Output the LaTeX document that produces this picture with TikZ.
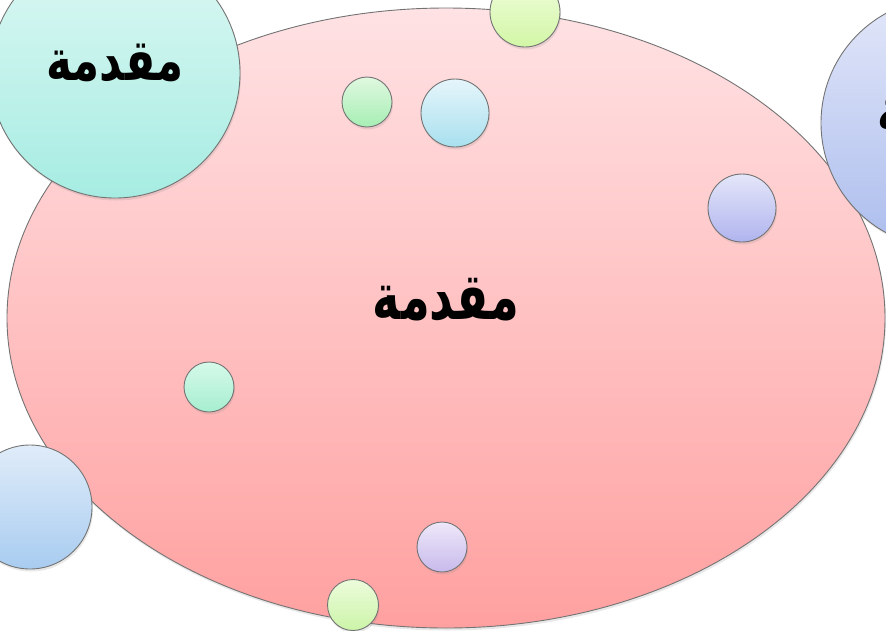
\documentclass[tikz,border=0pt]{standalone}
\usepackage{fontspec}
\usepackage{graphicx}
\usetikzlibrary{shapes.geometric,shadows}
\newfontfamily\arabicfont[Script=Arabic]{DejaVu Sans}
\TeXXeTstate=1
\newcommand{\arword}[3]{\scalebox{#2}[#3]{\beginR #1\endR}}
\tikzset{
  bubble/.style={circle, draw=black!55, line width=0.9pt, inner sep=0pt,
    drop shadow={opacity=0.18, shadow xshift=1pt, shadow yshift=-2.5pt}},
  bigtext/.style={font=\arabicfont\bfseries\fontsize{50}{60}\selectfont},
  midtext/.style={font=\arabicfont\bfseries\fontsize{46}{55}\selectfont},
}
\begin{document}
\begin{tikzpicture}[x=1pt,y=-1pt]
\useasboundingbox (0,0) rectangle (886,630);
\clip (0,0) rectangle (886,630);
\node[ellipse, draw=black!55, line width=0.9pt, minimum width=878pt, minimum height=620pt, inner sep=0pt,
  top color={rgb,255:red,255;green,226;blue,228}, bottom color={rgb,255:red,255;green,160;blue,160},
  drop shadow={opacity=0.18, shadow xshift=1pt, shadow yshift=-2.5pt}] (main) at (446,318) {};
\node[bigtext] (maintext) at (446,300) {\arword{مقدمة}{0.93}{1.3}};
% big circles
\node[bubble, minimum size=250pt, top color={rgb,255:red,222;green,248;blue,244}, bottom color={rgb,255:red,166;green,236;blue,226}] (tl) at (115,73) {};
\node[midtext] (tltext) at (115,63) {\arword{مقدمة}{0.95}{1.25}};
\node[bubble, minimum size=250pt, top color={rgb,255:red,226;green,231;blue,249}, bottom color={rgb,255:red,172;green,189;blue,237}] (tr) at (946,123) {};
\node[midtext] (trtext) at (946,113) {\arword{مقدمة}{0.95}{1.25}};
\node[bubble, minimum size=124pt, top color={rgb,255:red,224;green,236;blue,249}, bottom color={rgb,255:red,168;green,204;blue,240}] (bl) at (30,507) {};
% small circles
\node[bubble, minimum size=70pt, top color={rgb,255:red,240;green,252;blue,220}, bottom color={rgb,255:red,210;green,247;blue,166}] (s1) at (525,12) {};
\node[bubble, minimum size=50pt, top color={rgb,255:red,224;green,248;blue,224}, bottom color={rgb,255:red,166;green,238;blue,180}] (s2) at (367,102) {};
\node[bubble, minimum size=68pt, top color={rgb,255:red,230;green,245;blue,251}, bottom color={rgb,255:red,168;green,224;blue,238}] (s3) at (455,113) {};
\node[bubble, minimum size=68pt, top color={rgb,255:red,228;green,230;blue,249}, bottom color={rgb,255:red,176;green,180;blue,238}] (s4) at (742,208) {};
\node[bubble, minimum size=50pt, top color={rgb,255:red,214;green,249;blue,234}, bottom color={rgb,255:red,166;green,238;blue,208}] (s5) at (209,387) {};
\node[bubble, minimum size=50pt, top color={rgb,255:red,238;green,232;blue,249}, bottom color={rgb,255:red,200;green,186;blue,236}] (s6) at (442,547) {};
\node[bubble, minimum size=51pt, top color={rgb,255:red,236;green,252;blue,220}, bottom color={rgb,255:red,204;green,244;blue,168}] (s7) at (353,605) {};
\end{tikzpicture}
\end{document}
